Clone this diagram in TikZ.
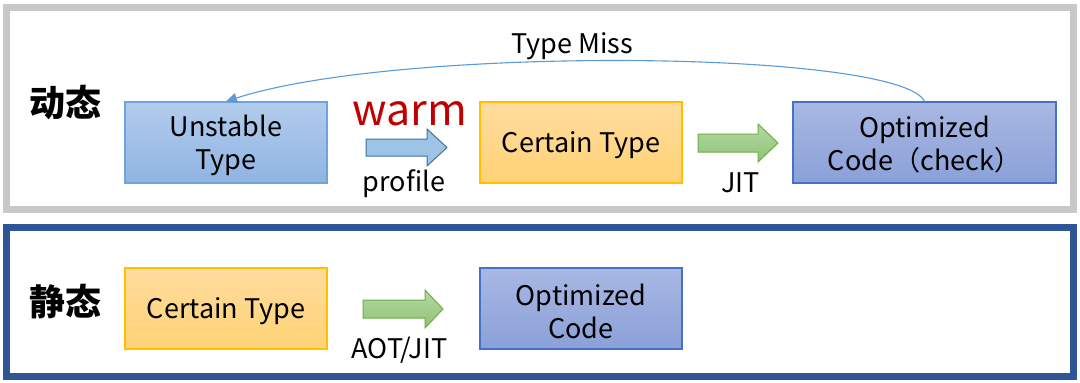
\documentclass[tikz,border=0pt]{standalone}
\usepackage{fontspec}
\setmainfont{Noto Sans CJK SC}
\usetikzlibrary{arrows.meta}
\definecolor{framegray}{HTML}{C8C8C8}
\definecolor{frameblue}{HTML}{2F5597}
\definecolor{ubtop}{HTML}{B2CCEC}
\definecolor{ubbot}{HTML}{8FB4E3}
\definecolor{ubdraw}{HTML}{6FA3DC}
\definecolor{cttop}{HTML}{FFDC9E}
\definecolor{ctbot}{HTML}{FFD276}
\definecolor{ctdraw}{HTML}{FFC000}
\definecolor{optop}{HTML}{A9B8E3}
\definecolor{opbot}{HTML}{8AA0D8}
\definecolor{opdraw}{HTML}{4472C4}
\definecolor{arblue}{HTML}{9DC3E6}
\definecolor{arbluedraw}{HTML}{41719C}
\definecolor{grtop}{HTML}{B3D9A3}
\definecolor{grbot}{HTML}{8FC378}
\definecolor{grdraw}{HTML}{70AD47}
\definecolor{warmred}{HTML}{C00000}
\definecolor{missblue}{HTML}{5B9BD5}
\newcommand{\blockarrow}[7]{%
  % #1 x0, #2 ymid, #3 head base x, #4 tip x, #5 shaft half, #6 head half, #7 style
  \path[#7] (#1,#2-#5) -- (#3,#2-#5) -- (#3,#2-#6) -- (#4,#2) -- (#3,#2+#6)
    -- (#3,#2+#5) -- (#1,#2+#5) -- cycle;}
\tikzset{
  boxtext/.style={font=\fontsize{27}{33}\selectfont, align=center, inner sep=0pt, yshift=-2.5pt},
  boxbase/.style={line width=1.2pt, inner sep=0pt, minimum height=81pt},
  unstbox/.style={boxbase, draw=ubdraw, top color=ubtop, bottom color=ubbot},
  certbox/.style={boxbase, draw=ctdraw, top color=cttop, bottom color=ctbot},
  optbox/.style={boxbase, draw=opdraw, top color=optop, bottom color=opbot},
  lbl/.style={font=\fontsize{27}{30}\selectfont, inner sep=0pt, anchor=base},
  cjklbl/.style={font=\bfseries\fontsize{36}{38}\selectfont, inner sep=0pt},
  bluearr/.style={draw=arbluedraw, line width=1pt, fill=arblue},
  greenarr/.style={draw=grdraw, line width=1pt, top color=grtop, bottom color=grbot},
  missline/.style={draw=missblue, line width=1.1pt, -{Triangle[length=11pt,width=10pt]}},
}
\begin{document}
\begin{tikzpicture}[x=1pt,y=-1pt]
\useasboundingbox (0,0) rectangle (1080,383);
\fill[white] (0,0) rectangle (1080,383);
% frames
\draw[framegray, line width=7pt] (6.5,7.5) rectangle (1073.5,209.5);
\draw[frameblue, line width=7pt] (6.5,227) rectangle (1073.5,376.5);
% labels
\node[cjklbl] (dyn) at (65.5,102.5) {动态};
\node[cjklbl] (sta) at (65.5,301.5) {静态};
% top row boxes
\node[unstbox, minimum width=202pt] (unst) at (226,142.5) {};
\node[certbox, minimum width=202pt] (cert) at (581,142.5) {};
\node[optbox, minimum width=263pt] (opt) at (924.5,142.5) {};
\node[boxtext] (unstt) at (unst.center) {Unstable\\Type};
\node[boxtext] (certt) at (cert.center) {Certain Type};
\node[boxtext] (optt) at (opt.center) {Optimized\\Code（check）};
% bottom row boxes
\node[certbox, minimum width=202pt] (cert2) at (226,308.5) {};
\node[optbox, minimum width=202pt] (opt2) at (581,308.5) {};
\node[boxtext] (cert2t) at (cert2.center) {Certain Type};
\node[boxtext] (opt2t) at (opt2.center) {Optimized\\Code};
% block arrows
\blockarrow{366}{147.5}{427}{447}{8.5}{18.5}{bluearr}
\blockarrow{698}{143}{758}{778}{9}{19}{greenarr}
\blockarrow{363}{309}{425}{443}{9}{19}{greenarr}
% arrow labels
\node[lbl, text=warmred, font=\fontsize{43}{46}\selectfont] (warm) at (409.5,125) {warm};
\node[lbl] (prof) at (404,191) {profile};
\node[lbl] (jit) at (740.5,192) {JIT};
\node[lbl] (aot) at (399.5,358) {AOT/JIT};
% type miss curve
\draw[missline] (opt.north) .. controls (900,50) and (400,45) .. (unst.north);
\node[lbl] (miss) at (572,53) {Type Miss};
\end{tikzpicture}
\end{document}
